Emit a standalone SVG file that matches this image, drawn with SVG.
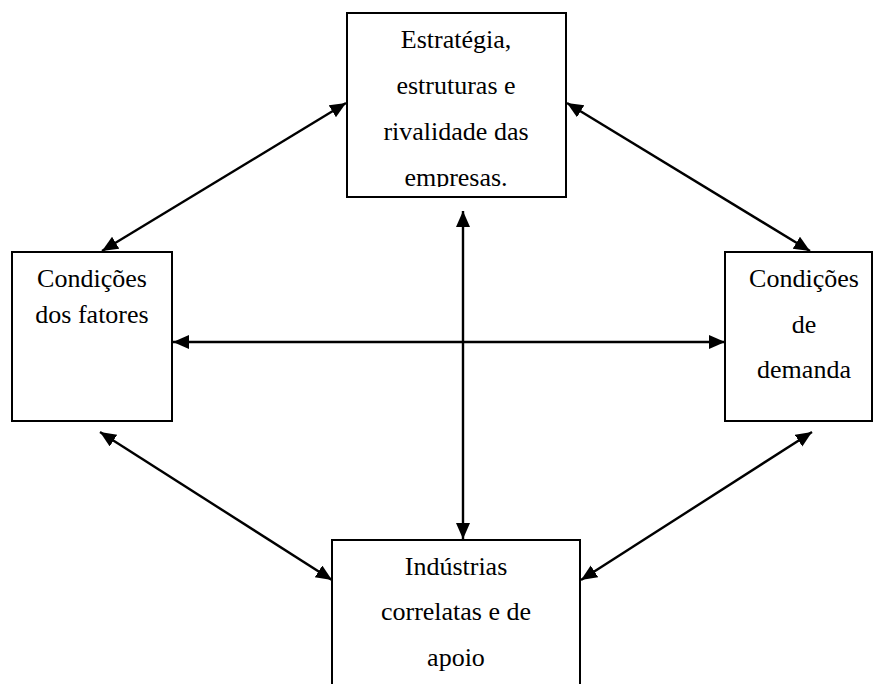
<svg xmlns="http://www.w3.org/2000/svg" width="873" height="684" viewBox="0 0 873 684">
<style>
.box{fill:#fff;stroke:#000;stroke-width:2}
.t{font-family:"Liberation Serif","Times New Roman",Tinos,serif;font-size:26px;fill:#000;text-anchor:middle}
.c{stroke:#000;stroke-width:2.4;fill:none;marker-start:url(#ah);marker-end:url(#ah)}
</style>
<defs>
<marker id="ah" markerUnits="userSpaceOnUse" markerWidth="18" markerHeight="16" refX="16" refY="7" orient="auto-start-reverse" viewBox="0 0 18 16">
<path d="M0,0 L16,7 L0,14 Z" fill="#000"/>
</marker>
<clipPath id="clipTop"><rect x="346" y="12" width="222" height="175"/></clipPath>
</defs>
<rect width="873" height="684" fill="#fff"/>
<g id="n-estrategia">
<rect class="box" x="347" y="13" width="219" height="184"/>
<g clip-path="url(#clipTop)">
<text class="t" x="456" y="48">Estratégia,</text>
<text class="t" x="456" y="94">estruturas e</text>
<text class="t" x="456" y="140">rivalidade das</text>
<text class="t" x="456" y="186">empresas.</text>
</g>
</g>
<g id="n-fatores">
<rect class="box" x="12" y="252" width="160" height="169"/>
<text class="t" x="92" y="287">Condições</text>
<text class="t" x="92" y="323">dos fatores</text>
</g>
<g id="n-demanda">
<rect class="box" x="725" y="252" width="147" height="169"/>
<text class="t" x="804" y="287">Condições</text>
<text class="t" x="804" y="333">de</text>
<text class="t" x="804" y="378">demanda</text>
</g>
<g id="n-industrias">
<rect class="box" x="332" y="540" width="248" height="150"/>
<text class="t" x="456" y="575">Indústrias</text>
<text class="t" x="456" y="620">correlatas e de</text>
<text class="t" x="456" y="666">apoio</text>
</g>
<g id="connectors">
<line class="c" x1="102" y1="251" x2="346" y2="103"/>
<line class="c" x1="567" y1="103" x2="810" y2="251"/>
<line class="c" x1="173" y1="342" x2="725" y2="342"/>
<line class="c" x1="463" y1="211" x2="463" y2="539"/>
<line class="c" x1="100" y1="432" x2="332" y2="580"/>
<line class="c" x1="812" y1="432" x2="581" y2="580"/>
</g>
</svg>
